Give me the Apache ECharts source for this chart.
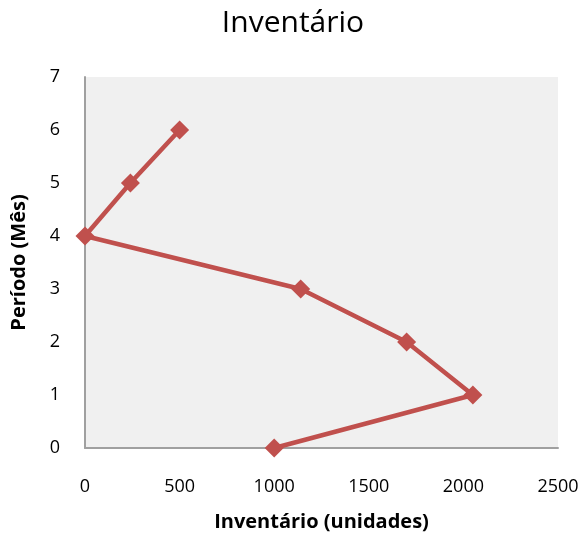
<!DOCTYPE html>
<html>
<head>
<meta charset="utf-8">
<script src="https://cdn.jsdelivr.net/npm/echarts@6/dist/echarts.min.js"></script>
<style>
  html, body { margin: 0; padding: 0; background: #ffffff; }
  #chart { width: 586px; height: 540px; }
</style>
</head>
<body>
<div id="chart"></div>
<script>
// Inventory level per month (x = units, y = period)
const periods = [0, 1, 2, 3, 4, 5, 6];
const inventory = [1000, 2050, 1700, 1140, 0, 240, 500];
const xTicks = [0, 500, 1000, 1500, 2000, 2500];
const yTicks = [0, 1, 2, 3, 4, 5, 6, 7];

const points = periods.map((p, i) => [inventory[i], p]);
const font = '"Open Sans", "Liberation Sans", sans-serif';

const chart = echarts.init(document.getElementById('chart'));
chart.setOption({
  animation: false,
  backgroundColor: '#ffffff',
  title: {
    text: 'Inventário',
    left: 'center',
    top: 3,
    textStyle: { fontFamily: font, fontSize: 30, fontWeight: 'normal', color: '#000' }
  },
  grid: {
    left: 85, right: 28, top: 77, bottom: 92,
    show: true, backgroundColor: '#f0f0f0', borderWidth: 0
  },
  xAxis: {
    type: 'value',
    min: xTicks[0], max: xTicks[xTicks.length - 1], interval: 500,
    name: 'Inventário (unidades)',
    nameLocation: 'middle', nameGap: 64,
    nameTextStyle: { fontFamily: font, fontSize: 20, fontWeight: 'bold', color: '#000' },
    axisLine: { show: true, lineStyle: { color: '#a0a0a0', width: 2 } },
    axisTick: { show: false },
    splitLine: { show: false },
    axisLabel: { fontFamily: font, fontSize: 18, color: '#000', margin: 30, formatter: v => String(v) }
  },
  yAxis: {
    type: 'value',
    min: yTicks[0], max: yTicks[yTicks.length - 1], interval: 1,
    name: 'Período (Mês)',
    nameLocation: 'middle', nameGap: 56,
    nameTextStyle: { fontFamily: font, fontSize: 20, fontWeight: 'bold', color: '#000' },
    axisLine: { show: true, lineStyle: { color: '#a0a0a0', width: 2 } },
    axisTick: { show: false },
    splitLine: { show: false },
    axisLabel: { fontFamily: font, fontSize: 18, color: '#000', margin: 25 }
  },
  series: [{
    type: 'line',
    data: points,
    symbol: 'diamond',
    symbolSize: 19,
    lineStyle: { color: '#c0504d', width: 4.5 },
    itemStyle: { color: '#c0504d' },
    z: 3
  }]
});
</script>
</body>
</html>
